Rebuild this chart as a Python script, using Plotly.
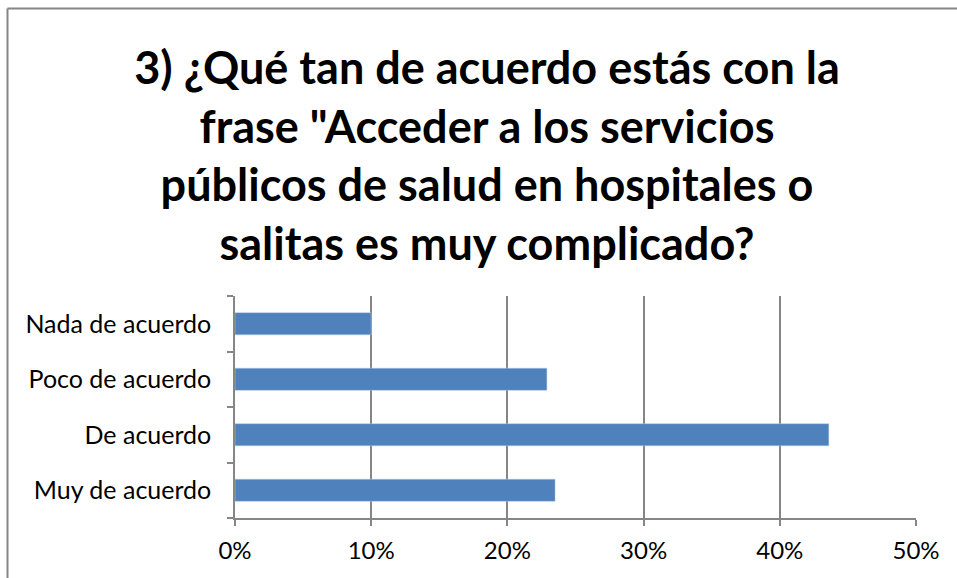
import plotly.graph_objects as go

categorias = ['Nada de acuerdo', 'Poco de acuerdo', 'De acuerdo', 'Muy de acuerdo']
porcentajes = [0.100, 0.229, 0.436, 0.235]
ticks_x = [0, 0.1, 0.2, 0.3, 0.4, 0.5]

titulo = ('3) ¿Qué tan de acuerdo estás con la<br>frase "Acceder a los servicios<br>'
          'públicos de salud en hospitales o<br>salitas es muy complicado?')

gris = '#868686'
W, H = 957, 578
L, R, T, B = 235, 41, 296, 60
pw, ph = W - L - R, H - T - B


def px_x(p):
    return (p - L) / pw


def px_y(p):
    return 1 - (p - T) / ph


fig = go.Figure()
fig.add_trace(go.Bar(x=porcentajes, y=categorias, orientation='h',
                     marker=dict(color='#4F81BD', line=dict(color='#B9CDE5', width=0.5)),
                     width=0.4))

fig.update_layout(
    width=W, height=H,
    margin=dict(l=L, r=R, t=T, b=B),
    paper_bgcolor='white', plot_bgcolor='white',
    showlegend=False,
    font=dict(family='Lato, Open Sans, sans-serif', size=24, color='black'),
    title=dict(text=titulo, x=487 / W, xanchor='center', y=1 - 84 / H, yanchor='top',
               font=dict(family='Lato, Open Sans, sans-serif', size=45, color='black',
                         weight='bold')),
    shapes=[
        dict(type='line', xref='paper', yref='paper', x0=px_x(7.5), x1=px_x(7.5),
             y0=px_y(8.5), y1=px_y(600), line=dict(color=gris, width=2)),
        dict(type='line', xref='paper', yref='paper', x0=px_x(7.5), x1=px_x(980),
             y0=px_y(8.5), y1=px_y(8.5), line=dict(color=gris, width=2)),
    ],
)

fig.update_xaxes(range=[0, 0.5], tickvals=ticks_x, tickformat='.0%',
                 showgrid=True, gridcolor=gris, gridwidth=1.5,
                 showline=True, linecolor=gris, linewidth=1.5,
                 ticks='outside', ticklen=6, tickcolor=gris, tickwidth=1.5,
                 ticklabelstandoff=4, zeroline=False, fixedrange=True)
fig.update_yaxes(categoryorder='array', categoryarray=categorias[::-1],
                 showline=True, linecolor=gris, linewidth=1.5,
                 ticks='outside', tickson='boundaries', ticklen=6, tickcolor=gris, tickwidth=1.5,
                 tickfont=dict(size=25), ticklabelstandoff=17, showgrid=False, fixedrange=True)

# sin margen del body, para que la figura ocupe la ventana exacta
fig.write_html("out.html", config={'displayModeBar': False},
               post_script="document.body.style.margin='0';")
